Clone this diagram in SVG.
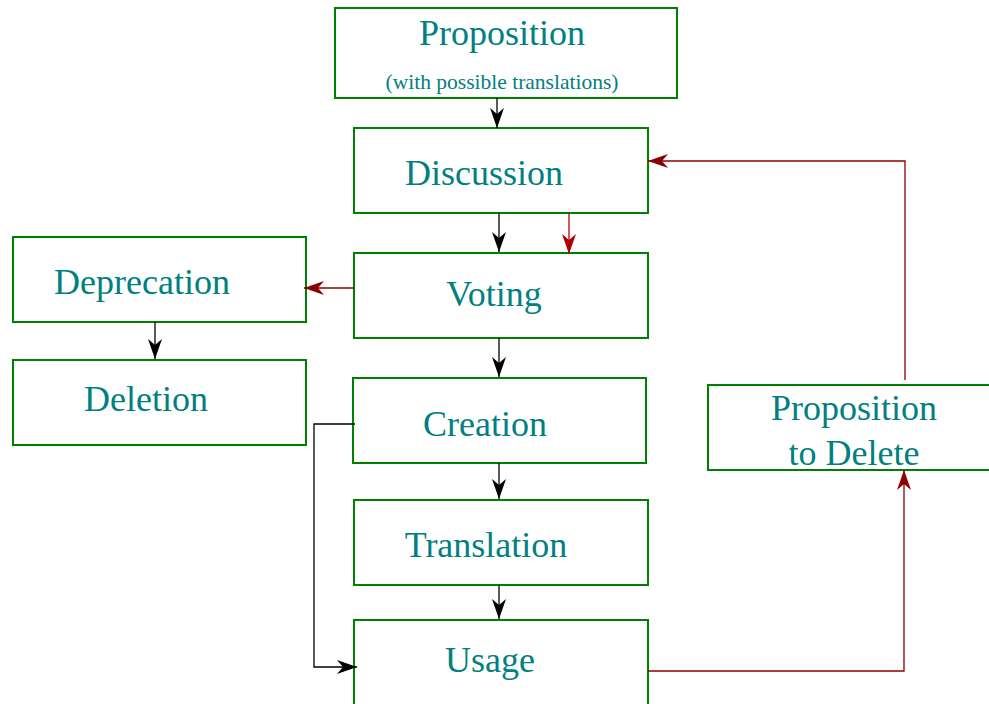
<svg xmlns="http://www.w3.org/2000/svg" width="989" height="704" viewBox="0 0 989 704">
<defs>
<style>
.box{fill:#fff;stroke:#008000;stroke-width:2}
.t{font-family:"Liberation Serif","Times New Roman",serif;fill:#008080;text-anchor:middle;font-size:36px}
.s{font-size:21.5px}
.k{fill:none;stroke:#000;stroke-width:1.3}
.r{fill:none;stroke:#8b0000;stroke-width:1.3}
.rb{fill:none;stroke:#b00000;stroke-width:1.3}
</style>
<marker id="ak" markerUnits="userSpaceOnUse" markerWidth="22" markerHeight="16" refX="20" refY="7" orient="auto"><path d="M0,0 L20,7 L0,14 L6,7 z" fill="#000"/></marker>
<marker id="ar" markerUnits="userSpaceOnUse" markerWidth="22" markerHeight="16" refX="20" refY="7" orient="auto"><path d="M0,0 L20,7 L0,14 L6,7 z" fill="#8b0000"/></marker>
<marker id="arb" markerUnits="userSpaceOnUse" markerWidth="22" markerHeight="16" refX="20" refY="7" orient="auto"><path d="M0,0 L20,7 L0,14 L6,7 z" fill="#b00000"/></marker>
</defs>
<rect width="989" height="704" fill="#fff"/>
<g id="proposition"><rect class="box" x="335" y="8" width="342" height="90"/><text class="t" x="502" y="45">Proposition</text><text class="t s" x="502" y="89">(with possible translations)</text></g>
<g id="discussion"><rect class="box" x="354" y="128" width="294" height="85"/><text class="t" x="484" y="185">Discussion</text></g>
<g id="voting"><rect class="box" x="354" y="253" width="294" height="85"/><text class="t" x="494" y="306">Voting</text></g>
<g id="creation"><rect class="box" x="353" y="378" width="293" height="85"/><text class="t" x="485" y="436">Creation</text></g>
<g id="translation"><rect class="box" x="354" y="500" width="294" height="85"/><text class="t" x="486" y="557">Translation</text></g>
<g id="usage"><rect class="box" x="354" y="620" width="294" height="90"/><text class="t" x="490" y="672">Usage</text></g>
<g id="deprecation"><rect class="box" x="13" y="237" width="293" height="85"/><text class="t" x="142" y="294">Deprecation</text></g>
<g id="deletion"><rect class="box" x="13" y="360" width="293" height="85"/><text class="t" x="146" y="411">Deletion</text></g>
<g id="proposition-to-delete"><rect class="box" x="708" y="385" width="290" height="85"/><text class="t" x="854" y="420">Proposition</text><text class="t" x="854" y="465">to Delete</text></g>
<g id="connectors">
<path class="k" d="M497,98 V128" marker-end="url(#ak)"/>
<path class="k" d="M499,213 V252" marker-end="url(#ak)"/>
<path class="rb" d="M569,213 V254" marker-end="url(#arb)"/>
<path class="r" d="M354,288 H304" marker-end="url(#ar)"/>
<path class="k" d="M155,322 V359" marker-end="url(#ak)"/>
<path class="k" d="M499,338 V377" marker-end="url(#ak)"/>
<path class="k" d="M499,463 V499" marker-end="url(#ak)"/>
<path class="k" d="M499,585 V619" marker-end="url(#ak)"/>
<path class="k" d="M355,424 H314 V667 H357" marker-end="url(#ak)"/>
<path class="r" d="M648,671 H904 V470" marker-end="url(#ar)"/>
<path class="r" d="M905,380 V161 H648" marker-end="url(#ar)"/>
</g>
</svg>
